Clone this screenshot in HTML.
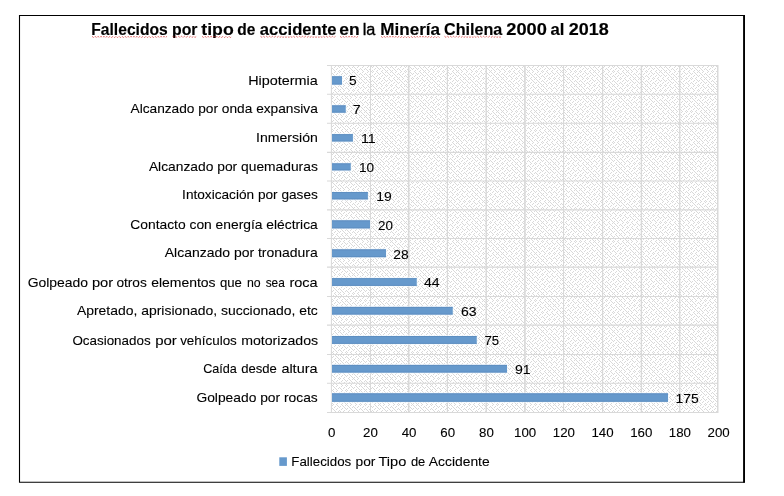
<!DOCTYPE html>
<html lang="es"><head><meta charset="utf-8">
<title>Fallecidos por tipo de accidente en la Minería Chilena 2000 al 2018</title>
<style>
html,body{margin:0;padding:0;background:#fff;}
body{width:784px;height:496px;overflow:hidden;}
svg{display:block;will-change:transform;}
text{font-family:"Liberation Sans", sans-serif;fill:#000;stroke:#000;stroke-width:0.1px;}
.cat{font-size:13.3px;}
.val{font-size:13.6px;}
.ax{font-size:13.3px;}
.leg{font-size:13.3px;}
.ttl{font-size:15.8px;font-weight:bold;stroke-width:0.15px;}
.ttl-l{font-size:15.8px;font-weight:normal;stroke:#000;stroke-width:0.35px;}
</style></head><body>
<svg width="784" height="496" viewBox="0 0 784 496">
<defs>
<pattern id="weave" width="137" height="137" patternUnits="userSpaceOnUse" patternTransform="translate(235 -70)">
<rect width="137" height="137" fill="#fff"/>
<path d="M0 0.5h1m4 0h1m4 0h1m2 0h1m1 0h1m2 0h1m1 0h1m2 0h1m4 0h1m4 0h1m4 0h1m4 0h1m4 0h1m2 0h1m1 0h1m2 0h1m4 0h1m4 0h1m4 0h1m4 0h1m4 0h1m2 0h1m1 0h1m2 0h1m4 0h1m4 0h1m4 0h1m4 0h1m4 0h1m2 0h1m1 0h1m2 0h1m4 0h1m4 0h1M3 1.5h1m2 0h1m1 0h1m2 0h1m4 0h1m4 0h1m4 0h1m4 0h1m4 0h1m2 0h1m1 0h1m2 0h1m1 0h1m2 0h1m4 0h1m4 0h1m4 0h1m4 0h1m4 0h1m2 0h1m1 0h1m2 0h1m4 0h1m4 0h1m4 0h1m4 0h1m4 0h1m2 0h1m1 0h1m2 0h1m4 0h1m4 0h1m4 0h1m4 0h1M2 2.5h1m4 0h1m4 0h1m4 0h1m4 0h1m2 0h1m1 0h1m2 0h1m4 0h1m4 0h1m4 0h1m4 0h1m4 0h1m2 0h1m1 0h1m2 0h1m4 0h1m4 0h1m4 0h1m4 0h1m4 0h1m2 0h1m1 0h1m2 0h1m1 0h1m2 0h1m4 0h1m4 0h1m4 0h1m4 0h1m2 0h1m1 0h1m2 0h1m1 0h1m2 0h1M0 3.5h1m4 0h1m4 0h1m2 0h1m1 0h1m2 0h1m1 0h1m2 0h1m4 0h1m4 0h1m4 0h1m4 0h1m4 0h1m2 0h1m1 0h1m2 0h1m4 0h1m4 0h1m4 0h1m4 0h1m4 0h1m2 0h1m1 0h1m2 0h1m4 0h1m4 0h1m4 0h1m4 0h1m4 0h1m2 0h1m1 0h1m2 0h1m4 0h1m4 0h1M1 4.5h1m2 0h1m4 0h1m4 0h1m4 0h1m4 0h1m4 0h1m2 0h1m1 0h1m2 0h1m4 0h1m4 0h1m4 0h1m4 0h1m4 0h1m2 0h1m1 0h1m2 0h1m1 0h1m2 0h1m4 0h1m4 0h1m4 0h1m4 0h1m4 0h1m2 0h1m1 0h1m2 0h1m4 0h1m4 0h1m4 0h1m4 0h1m4 0h1m2 0h1M0 5.5h1m4 0h1m4 0h1m2 0h1m1 0h1m2 0h1m1 0h1m2 0h1m4 0h1m4 0h1m4 0h1m4 0h1m4 0h1m2 0h1m1 0h1m2 0h1m4 0h1m4 0h1m4 0h1m4 0h1m4 0h1m2 0h1m1 0h1m2 0h1m4 0h1m4 0h1m4 0h1m4 0h1m4 0h1m2 0h1m1 0h1m2 0h1m4 0h1m4 0h1M3 6.5h1m2 0h1m1 0h1m2 0h1m4 0h1m4 0h1m4 0h1m4 0h1m4 0h1m2 0h1m1 0h1m2 0h1m1 0h1m2 0h1m4 0h1m4 0h1m4 0h1m4 0h1m4 0h1m2 0h1m1 0h1m2 0h1m4 0h1m4 0h1m4 0h1m4 0h1m4 0h1m2 0h1m1 0h1m2 0h1m4 0h1m4 0h1m4 0h1m4 0h1M2 7.5h1m4 0h1m4 0h1m4 0h1m4 0h1m2 0h1m1 0h1m2 0h1m4 0h1m4 0h1m4 0h1m4 0h1m4 0h1m2 0h1m1 0h1m2 0h1m4 0h1m4 0h1m4 0h1m4 0h1m4 0h1m2 0h1m1 0h1m2 0h1m1 0h1m2 0h1m4 0h1m4 0h1m4 0h1m4 0h1m2 0h1m1 0h1m2 0h1m1 0h1m2 0h1M0 8.5h1m4 0h1m4 0h1m2 0h1m1 0h1m2 0h1m1 0h1m2 0h1m4 0h1m4 0h1m4 0h1m4 0h1m4 0h1m2 0h1m1 0h1m2 0h1m4 0h1m4 0h1m4 0h1m4 0h1m4 0h1m2 0h1m1 0h1m2 0h1m4 0h1m4 0h1m4 0h1m4 0h1m4 0h1m2 0h1m1 0h1m2 0h1m4 0h1m4 0h1M1 9.5h1m2 0h1m4 0h1m4 0h1m4 0h1m4 0h1m4 0h1m2 0h1m1 0h1m2 0h1m4 0h1m4 0h1m4 0h1m4 0h1m4 0h1m2 0h1m1 0h1m2 0h1m1 0h1m2 0h1m4 0h1m4 0h1m4 0h1m4 0h1m4 0h1m2 0h1m1 0h1m2 0h1m4 0h1m4 0h1m4 0h1m4 0h1m4 0h1m2 0h1M2 10.5h1m4 0h1m4 0h1m4 0h1m4 0h1m2 0h1m1 0h1m2 0h1m4 0h1m4 0h1m4 0h1m4 0h1m4 0h1m2 0h1m1 0h1m2 0h1m4 0h1m4 0h1m4 0h1m4 0h1m4 0h1m2 0h1m1 0h1m2 0h1m1 0h1m2 0h1m4 0h1m4 0h1m4 0h1m4 0h1m2 0h1m1 0h1m2 0h1m1 0h1m2 0h1M3 11.5h1m2 0h1m1 0h1m2 0h1m4 0h1m4 0h1m4 0h1m4 0h1m4 0h1m2 0h1m1 0h1m2 0h1m1 0h1m2 0h1m4 0h1m4 0h1m4 0h1m4 0h1m4 0h1m2 0h1m1 0h1m2 0h1m4 0h1m4 0h1m4 0h1m4 0h1m4 0h1m2 0h1m1 0h1m2 0h1m4 0h1m4 0h1m4 0h1m4 0h1M2 12.5h1m4 0h1m4 0h1m4 0h1m4 0h1m2 0h1m1 0h1m2 0h1m4 0h1m4 0h1m4 0h1m4 0h1m4 0h1m2 0h1m1 0h1m2 0h1m4 0h1m4 0h1m4 0h1m4 0h1m4 0h1m2 0h1m1 0h1m2 0h1m1 0h1m2 0h1m4 0h1m4 0h1m4 0h1m4 0h1m2 0h1m1 0h1m2 0h1m1 0h1m2 0h1M0 13.5h1m4 0h1m4 0h1m2 0h1m1 0h1m2 0h1m1 0h1m2 0h1m4 0h1m4 0h1m4 0h1m4 0h1m4 0h1m2 0h1m1 0h1m2 0h1m4 0h1m4 0h1m4 0h1m4 0h1m4 0h1m2 0h1m1 0h1m2 0h1m4 0h1m4 0h1m4 0h1m4 0h1m4 0h1m2 0h1m1 0h1m2 0h1m4 0h1m4 0h1M1 14.5h1m2 0h1m4 0h1m4 0h1m4 0h1m4 0h1m4 0h1m2 0h1m1 0h1m2 0h1m4 0h1m4 0h1m4 0h1m4 0h1m4 0h1m2 0h1m1 0h1m2 0h1m1 0h1m2 0h1m4 0h1m4 0h1m4 0h1m4 0h1m4 0h1m2 0h1m1 0h1m2 0h1m4 0h1m4 0h1m4 0h1m4 0h1m4 0h1m2 0h1M2 15.5h1m4 0h1m4 0h1m4 0h1m4 0h1m2 0h1m1 0h1m2 0h1m4 0h1m4 0h1m4 0h1m4 0h1m4 0h1m2 0h1m1 0h1m2 0h1m4 0h1m4 0h1m4 0h1m4 0h1m4 0h1m2 0h1m1 0h1m2 0h1m1 0h1m2 0h1m4 0h1m4 0h1m4 0h1m4 0h1m2 0h1m1 0h1m2 0h1m1 0h1m2 0h1M3 16.5h1m2 0h1m1 0h1m2 0h1m4 0h1m4 0h1m4 0h1m4 0h1m4 0h1m2 0h1m1 0h1m2 0h1m1 0h1m2 0h1m4 0h1m4 0h1m4 0h1m4 0h1m4 0h1m2 0h1m1 0h1m2 0h1m4 0h1m4 0h1m4 0h1m4 0h1m4 0h1m2 0h1m1 0h1m2 0h1m4 0h1m4 0h1m4 0h1m4 0h1M1 17.5h1m2 0h1m4 0h1m4 0h1m4 0h1m4 0h1m4 0h1m2 0h1m1 0h1m2 0h1m4 0h1m4 0h1m4 0h1m4 0h1m4 0h1m2 0h1m1 0h1m2 0h1m1 0h1m2 0h1m4 0h1m4 0h1m4 0h1m4 0h1m4 0h1m2 0h1m1 0h1m2 0h1m4 0h1m4 0h1m4 0h1m4 0h1m4 0h1m2 0h1M0 18.5h1m4 0h1m4 0h1m2 0h1m1 0h1m2 0h1m1 0h1m2 0h1m4 0h1m4 0h1m4 0h1m4 0h1m4 0h1m2 0h1m1 0h1m2 0h1m4 0h1m4 0h1m4 0h1m4 0h1m4 0h1m2 0h1m1 0h1m2 0h1m4 0h1m4 0h1m4 0h1m4 0h1m4 0h1m2 0h1m1 0h1m2 0h1m4 0h1m4 0h1M1 19.5h1m2 0h1m4 0h1m4 0h1m4 0h1m4 0h1m4 0h1m2 0h1m1 0h1m2 0h1m4 0h1m4 0h1m4 0h1m4 0h1m4 0h1m2 0h1m1 0h1m2 0h1m1 0h1m2 0h1m4 0h1m4 0h1m4 0h1m4 0h1m4 0h1m2 0h1m1 0h1m2 0h1m4 0h1m4 0h1m4 0h1m4 0h1m4 0h1m2 0h1M2 20.5h1m4 0h1m4 0h1m4 0h1m4 0h1m2 0h1m1 0h1m2 0h1m4 0h1m4 0h1m4 0h1m4 0h1m4 0h1m2 0h1m1 0h1m2 0h1m4 0h1m4 0h1m4 0h1m4 0h1m4 0h1m2 0h1m1 0h1m2 0h1m1 0h1m2 0h1m4 0h1m4 0h1m4 0h1m4 0h1m2 0h1m1 0h1m2 0h1m1 0h1m2 0h1M3 21.5h1m2 0h1m1 0h1m2 0h1m4 0h1m4 0h1m4 0h1m4 0h1m4 0h1m2 0h1m1 0h1m2 0h1m1 0h1m2 0h1m4 0h1m4 0h1m4 0h1m4 0h1m4 0h1m2 0h1m1 0h1m2 0h1m4 0h1m4 0h1m4 0h1m4 0h1m4 0h1m2 0h1m1 0h1m2 0h1m4 0h1m4 0h1m4 0h1m4 0h1M1 22.5h1m2 0h1m4 0h1m4 0h1m4 0h1m4 0h1m4 0h1m2 0h1m1 0h1m2 0h1m4 0h1m4 0h1m4 0h1m4 0h1m4 0h1m2 0h1m1 0h1m2 0h1m1 0h1m2 0h1m4 0h1m4 0h1m4 0h1m4 0h1m4 0h1m2 0h1m1 0h1m2 0h1m4 0h1m4 0h1m4 0h1m4 0h1m4 0h1m2 0h1M0 23.5h1m4 0h1m4 0h1m2 0h1m1 0h1m2 0h1m1 0h1m2 0h1m4 0h1m4 0h1m4 0h1m4 0h1m4 0h1m2 0h1m1 0h1m2 0h1m4 0h1m4 0h1m4 0h1m4 0h1m4 0h1m2 0h1m1 0h1m2 0h1m4 0h1m4 0h1m4 0h1m4 0h1m4 0h1m2 0h1m1 0h1m2 0h1m4 0h1m4 0h1M1 24.5h1m2 0h1m4 0h1m4 0h1m4 0h1m4 0h1m4 0h1m2 0h1m1 0h1m2 0h1m4 0h1m4 0h1m4 0h1m4 0h1m4 0h1m2 0h1m1 0h1m2 0h1m1 0h1m2 0h1m4 0h1m4 0h1m4 0h1m4 0h1m4 0h1m2 0h1m1 0h1m2 0h1m4 0h1m4 0h1m4 0h1m4 0h1m4 0h1m2 0h1M2 25.5h1m4 0h1m4 0h1m4 0h1m4 0h1m2 0h1m1 0h1m2 0h1m4 0h1m4 0h1m4 0h1m4 0h1m4 0h1m2 0h1m1 0h1m2 0h1m4 0h1m4 0h1m4 0h1m4 0h1m4 0h1m2 0h1m1 0h1m2 0h1m1 0h1m2 0h1m4 0h1m4 0h1m4 0h1m4 0h1m2 0h1m1 0h1m2 0h1m1 0h1m2 0h1M3 26.5h1m2 0h1m1 0h1m2 0h1m4 0h1m4 0h1m4 0h1m4 0h1m4 0h1m2 0h1m1 0h1m2 0h1m1 0h1m2 0h1m4 0h1m4 0h1m4 0h1m4 0h1m4 0h1m2 0h1m1 0h1m2 0h1m4 0h1m4 0h1m4 0h1m4 0h1m4 0h1m2 0h1m1 0h1m2 0h1m4 0h1m4 0h1m4 0h1m4 0h1M1 27.5h1m2 0h1m4 0h1m4 0h1m4 0h1m4 0h1m4 0h1m2 0h1m1 0h1m2 0h1m4 0h1m4 0h1m4 0h1m4 0h1m4 0h1m2 0h1m1 0h1m2 0h1m1 0h1m2 0h1m4 0h1m4 0h1m4 0h1m4 0h1m4 0h1m2 0h1m1 0h1m2 0h1m4 0h1m4 0h1m4 0h1m4 0h1m4 0h1m2 0h1M0 28.5h1m4 0h1m4 0h1m2 0h1m1 0h1m2 0h1m1 0h1m2 0h1m4 0h1m4 0h1m4 0h1m4 0h1m4 0h1m2 0h1m1 0h1m2 0h1m4 0h1m4 0h1m4 0h1m4 0h1m4 0h1m2 0h1m1 0h1m2 0h1m4 0h1m4 0h1m4 0h1m4 0h1m4 0h1m2 0h1m1 0h1m2 0h1m4 0h1m4 0h1M3 29.5h1m2 0h1m1 0h1m2 0h1m4 0h1m4 0h1m4 0h1m4 0h1m4 0h1m2 0h1m1 0h1m2 0h1m1 0h1m2 0h1m4 0h1m4 0h1m4 0h1m4 0h1m4 0h1m2 0h1m1 0h1m2 0h1m4 0h1m4 0h1m4 0h1m4 0h1m4 0h1m2 0h1m1 0h1m2 0h1m4 0h1m4 0h1m4 0h1m4 0h1M2 30.5h1m4 0h1m4 0h1m4 0h1m4 0h1m2 0h1m1 0h1m2 0h1m4 0h1m4 0h1m4 0h1m4 0h1m4 0h1m2 0h1m1 0h1m2 0h1m4 0h1m4 0h1m4 0h1m4 0h1m4 0h1m2 0h1m1 0h1m2 0h1m1 0h1m2 0h1m4 0h1m4 0h1m4 0h1m4 0h1m2 0h1m1 0h1m2 0h1m1 0h1m2 0h1M3 31.5h1m2 0h1m1 0h1m2 0h1m4 0h1m4 0h1m4 0h1m4 0h1m4 0h1m2 0h1m1 0h1m2 0h1m1 0h1m2 0h1m4 0h1m4 0h1m4 0h1m4 0h1m4 0h1m2 0h1m1 0h1m2 0h1m4 0h1m4 0h1m4 0h1m4 0h1m4 0h1m2 0h1m1 0h1m2 0h1m4 0h1m4 0h1m4 0h1m4 0h1M1 32.5h1m2 0h1m4 0h1m4 0h1m4 0h1m4 0h1m4 0h1m2 0h1m1 0h1m2 0h1m4 0h1m4 0h1m4 0h1m4 0h1m4 0h1m2 0h1m1 0h1m2 0h1m1 0h1m2 0h1m4 0h1m4 0h1m4 0h1m4 0h1m4 0h1m2 0h1m1 0h1m2 0h1m4 0h1m4 0h1m4 0h1m4 0h1m4 0h1m2 0h1M0 33.5h1m4 0h1m4 0h1m2 0h1m1 0h1m2 0h1m1 0h1m2 0h1m4 0h1m4 0h1m4 0h1m4 0h1m4 0h1m2 0h1m1 0h1m2 0h1m4 0h1m4 0h1m4 0h1m4 0h1m4 0h1m2 0h1m1 0h1m2 0h1m4 0h1m4 0h1m4 0h1m4 0h1m4 0h1m2 0h1m1 0h1m2 0h1m4 0h1m4 0h1M3 34.5h1m2 0h1m1 0h1m2 0h1m4 0h1m4 0h1m4 0h1m4 0h1m4 0h1m2 0h1m1 0h1m2 0h1m1 0h1m2 0h1m4 0h1m4 0h1m4 0h1m4 0h1m4 0h1m2 0h1m1 0h1m2 0h1m4 0h1m4 0h1m4 0h1m4 0h1m4 0h1m2 0h1m1 0h1m2 0h1m4 0h1m4 0h1m4 0h1m4 0h1M2 35.5h1m4 0h1m4 0h1m4 0h1m4 0h1m2 0h1m1 0h1m2 0h1m4 0h1m4 0h1m4 0h1m4 0h1m4 0h1m2 0h1m1 0h1m2 0h1m4 0h1m4 0h1m4 0h1m4 0h1m4 0h1m2 0h1m1 0h1m2 0h1m1 0h1m2 0h1m4 0h1m4 0h1m4 0h1m4 0h1m2 0h1m1 0h1m2 0h1m1 0h1m2 0h1M0 36.5h1m4 0h1m4 0h1m2 0h1m1 0h1m2 0h1m1 0h1m2 0h1m4 0h1m4 0h1m4 0h1m4 0h1m4 0h1m2 0h1m1 0h1m2 0h1m4 0h1m4 0h1m4 0h1m4 0h1m4 0h1m2 0h1m1 0h1m2 0h1m4 0h1m4 0h1m4 0h1m4 0h1m4 0h1m2 0h1m1 0h1m2 0h1m4 0h1m4 0h1M1 37.5h1m2 0h1m4 0h1m4 0h1m4 0h1m4 0h1m4 0h1m2 0h1m1 0h1m2 0h1m4 0h1m4 0h1m4 0h1m4 0h1m4 0h1m2 0h1m1 0h1m2 0h1m1 0h1m2 0h1m4 0h1m4 0h1m4 0h1m4 0h1m4 0h1m2 0h1m1 0h1m2 0h1m4 0h1m4 0h1m4 0h1m4 0h1m4 0h1m2 0h1M0 38.5h1m4 0h1m4 0h1m2 0h1m1 0h1m2 0h1m1 0h1m2 0h1m4 0h1m4 0h1m4 0h1m4 0h1m4 0h1m2 0h1m1 0h1m2 0h1m4 0h1m4 0h1m4 0h1m4 0h1m4 0h1m2 0h1m1 0h1m2 0h1m4 0h1m4 0h1m4 0h1m4 0h1m4 0h1m2 0h1m1 0h1m2 0h1m4 0h1m4 0h1M3 39.5h1m2 0h1m1 0h1m2 0h1m4 0h1m4 0h1m4 0h1m4 0h1m4 0h1m2 0h1m1 0h1m2 0h1m1 0h1m2 0h1m4 0h1m4 0h1m4 0h1m4 0h1m4 0h1m2 0h1m1 0h1m2 0h1m4 0h1m4 0h1m4 0h1m4 0h1m4 0h1m2 0h1m1 0h1m2 0h1m4 0h1m4 0h1m4 0h1m4 0h1M2 40.5h1m4 0h1m4 0h1m4 0h1m4 0h1m2 0h1m1 0h1m2 0h1m4 0h1m4 0h1m4 0h1m4 0h1m4 0h1m2 0h1m1 0h1m2 0h1m4 0h1m4 0h1m4 0h1m4 0h1m4 0h1m2 0h1m1 0h1m2 0h1m1 0h1m2 0h1m4 0h1m4 0h1m4 0h1m4 0h1m2 0h1m1 0h1m2 0h1m1 0h1m2 0h1M0 41.5h1m4 0h1m4 0h1m2 0h1m1 0h1m2 0h1m1 0h1m2 0h1m4 0h1m4 0h1m4 0h1m4 0h1m4 0h1m2 0h1m1 0h1m2 0h1m4 0h1m4 0h1m4 0h1m4 0h1m4 0h1m2 0h1m1 0h1m2 0h1m4 0h1m4 0h1m4 0h1m4 0h1m4 0h1m2 0h1m1 0h1m2 0h1m4 0h1m4 0h1M1 42.5h1m2 0h1m4 0h1m4 0h1m4 0h1m4 0h1m4 0h1m2 0h1m1 0h1m2 0h1m4 0h1m4 0h1m4 0h1m4 0h1m4 0h1m2 0h1m1 0h1m2 0h1m1 0h1m2 0h1m4 0h1m4 0h1m4 0h1m4 0h1m4 0h1m2 0h1m1 0h1m2 0h1m4 0h1m4 0h1m4 0h1m4 0h1m4 0h1m2 0h1M2 43.5h1m4 0h1m4 0h1m4 0h1m4 0h1m2 0h1m1 0h1m2 0h1m4 0h1m4 0h1m4 0h1m4 0h1m4 0h1m2 0h1m1 0h1m2 0h1m4 0h1m4 0h1m4 0h1m4 0h1m4 0h1m2 0h1m1 0h1m2 0h1m1 0h1m2 0h1m4 0h1m4 0h1m4 0h1m4 0h1m2 0h1m1 0h1m2 0h1m1 0h1m2 0h1M3 44.5h1m2 0h1m1 0h1m2 0h1m4 0h1m4 0h1m4 0h1m4 0h1m4 0h1m2 0h1m1 0h1m2 0h1m1 0h1m2 0h1m4 0h1m4 0h1m4 0h1m4 0h1m4 0h1m2 0h1m1 0h1m2 0h1m4 0h1m4 0h1m4 0h1m4 0h1m4 0h1m2 0h1m1 0h1m2 0h1m4 0h1m4 0h1m4 0h1m4 0h1M2 45.5h1m4 0h1m4 0h1m4 0h1m4 0h1m2 0h1m1 0h1m2 0h1m4 0h1m4 0h1m4 0h1m4 0h1m4 0h1m2 0h1m1 0h1m2 0h1m4 0h1m4 0h1m4 0h1m4 0h1m4 0h1m2 0h1m1 0h1m2 0h1m1 0h1m2 0h1m4 0h1m4 0h1m4 0h1m4 0h1m2 0h1m1 0h1m2 0h1m1 0h1m2 0h1M0 46.5h1m4 0h1m4 0h1m2 0h1m1 0h1m2 0h1m1 0h1m2 0h1m4 0h1m4 0h1m4 0h1m4 0h1m4 0h1m2 0h1m1 0h1m2 0h1m4 0h1m4 0h1m4 0h1m4 0h1m4 0h1m2 0h1m1 0h1m2 0h1m4 0h1m4 0h1m4 0h1m4 0h1m4 0h1m2 0h1m1 0h1m2 0h1m4 0h1m4 0h1M1 47.5h1m2 0h1m4 0h1m4 0h1m4 0h1m4 0h1m4 0h1m2 0h1m1 0h1m2 0h1m4 0h1m4 0h1m4 0h1m4 0h1m4 0h1m2 0h1m1 0h1m2 0h1m1 0h1m2 0h1m4 0h1m4 0h1m4 0h1m4 0h1m4 0h1m2 0h1m1 0h1m2 0h1m4 0h1m4 0h1m4 0h1m4 0h1m4 0h1m2 0h1M2 48.5h1m4 0h1m4 0h1m4 0h1m4 0h1m2 0h1m1 0h1m2 0h1m4 0h1m4 0h1m4 0h1m4 0h1m4 0h1m2 0h1m1 0h1m2 0h1m4 0h1m4 0h1m4 0h1m4 0h1m4 0h1m2 0h1m1 0h1m2 0h1m1 0h1m2 0h1m4 0h1m4 0h1m4 0h1m4 0h1m2 0h1m1 0h1m2 0h1m1 0h1m2 0h1M3 49.5h1m2 0h1m1 0h1m2 0h1m4 0h1m4 0h1m4 0h1m4 0h1m4 0h1m2 0h1m1 0h1m2 0h1m1 0h1m2 0h1m4 0h1m4 0h1m4 0h1m4 0h1m4 0h1m2 0h1m1 0h1m2 0h1m4 0h1m4 0h1m4 0h1m4 0h1m4 0h1m2 0h1m1 0h1m2 0h1m4 0h1m4 0h1m4 0h1m4 0h1M2 50.5h1m4 0h1m4 0h1m4 0h1m4 0h1m2 0h1m1 0h1m2 0h1m4 0h1m4 0h1m4 0h1m4 0h1m4 0h1m2 0h1m1 0h1m2 0h1m4 0h1m4 0h1m4 0h1m4 0h1m4 0h1m2 0h1m1 0h1m2 0h1m1 0h1m2 0h1m4 0h1m4 0h1m4 0h1m4 0h1m2 0h1m1 0h1m2 0h1m1 0h1m2 0h1M0 51.5h1m4 0h1m4 0h1m2 0h1m1 0h1m2 0h1m1 0h1m2 0h1m4 0h1m4 0h1m4 0h1m4 0h1m4 0h1m2 0h1m1 0h1m2 0h1m4 0h1m4 0h1m4 0h1m4 0h1m4 0h1m2 0h1m1 0h1m2 0h1m4 0h1m4 0h1m4 0h1m4 0h1m4 0h1m2 0h1m1 0h1m2 0h1m4 0h1m4 0h1M1 52.5h1m2 0h1m4 0h1m4 0h1m4 0h1m4 0h1m4 0h1m2 0h1m1 0h1m2 0h1m4 0h1m4 0h1m4 0h1m4 0h1m4 0h1m2 0h1m1 0h1m2 0h1m1 0h1m2 0h1m4 0h1m4 0h1m4 0h1m4 0h1m4 0h1m2 0h1m1 0h1m2 0h1m4 0h1m4 0h1m4 0h1m4 0h1m4 0h1m2 0h1M2 53.5h1m4 0h1m4 0h1m4 0h1m4 0h1m2 0h1m1 0h1m2 0h1m4 0h1m4 0h1m4 0h1m4 0h1m4 0h1m2 0h1m1 0h1m2 0h1m4 0h1m4 0h1m4 0h1m4 0h1m4 0h1m2 0h1m1 0h1m2 0h1m1 0h1m2 0h1m4 0h1m4 0h1m4 0h1m4 0h1m2 0h1m1 0h1m2 0h1m1 0h1m2 0h1M3 54.5h1m2 0h1m1 0h1m2 0h1m4 0h1m4 0h1m4 0h1m4 0h1m4 0h1m2 0h1m1 0h1m2 0h1m1 0h1m2 0h1m4 0h1m4 0h1m4 0h1m4 0h1m4 0h1m2 0h1m1 0h1m2 0h1m4 0h1m4 0h1m4 0h1m4 0h1m4 0h1m2 0h1m1 0h1m2 0h1m4 0h1m4 0h1m4 0h1m4 0h1M1 55.5h1m2 0h1m4 0h1m4 0h1m4 0h1m4 0h1m4 0h1m2 0h1m1 0h1m2 0h1m4 0h1m4 0h1m4 0h1m4 0h1m4 0h1m2 0h1m1 0h1m2 0h1m1 0h1m2 0h1m4 0h1m4 0h1m4 0h1m4 0h1m4 0h1m2 0h1m1 0h1m2 0h1m4 0h1m4 0h1m4 0h1m4 0h1m4 0h1m2 0h1M0 56.5h1m4 0h1m4 0h1m2 0h1m1 0h1m2 0h1m1 0h1m2 0h1m4 0h1m4 0h1m4 0h1m4 0h1m4 0h1m2 0h1m1 0h1m2 0h1m4 0h1m4 0h1m4 0h1m4 0h1m4 0h1m2 0h1m1 0h1m2 0h1m4 0h1m4 0h1m4 0h1m4 0h1m4 0h1m2 0h1m1 0h1m2 0h1m4 0h1m4 0h1M1 57.5h1m2 0h1m4 0h1m4 0h1m4 0h1m4 0h1m4 0h1m2 0h1m1 0h1m2 0h1m4 0h1m4 0h1m4 0h1m4 0h1m4 0h1m2 0h1m1 0h1m2 0h1m1 0h1m2 0h1m4 0h1m4 0h1m4 0h1m4 0h1m4 0h1m2 0h1m1 0h1m2 0h1m4 0h1m4 0h1m4 0h1m4 0h1m4 0h1m2 0h1M2 58.5h1m4 0h1m4 0h1m4 0h1m4 0h1m2 0h1m1 0h1m2 0h1m4 0h1m4 0h1m4 0h1m4 0h1m4 0h1m2 0h1m1 0h1m2 0h1m4 0h1m4 0h1m4 0h1m4 0h1m4 0h1m2 0h1m1 0h1m2 0h1m1 0h1m2 0h1m4 0h1m4 0h1m4 0h1m4 0h1m2 0h1m1 0h1m2 0h1m1 0h1m2 0h1M3 59.5h1m2 0h1m1 0h1m2 0h1m4 0h1m4 0h1m4 0h1m4 0h1m4 0h1m2 0h1m1 0h1m2 0h1m1 0h1m2 0h1m4 0h1m4 0h1m4 0h1m4 0h1m4 0h1m2 0h1m1 0h1m2 0h1m4 0h1m4 0h1m4 0h1m4 0h1m4 0h1m2 0h1m1 0h1m2 0h1m4 0h1m4 0h1m4 0h1m4 0h1M1 60.5h1m2 0h1m4 0h1m4 0h1m4 0h1m4 0h1m4 0h1m2 0h1m1 0h1m2 0h1m4 0h1m4 0h1m4 0h1m4 0h1m4 0h1m2 0h1m1 0h1m2 0h1m1 0h1m2 0h1m4 0h1m4 0h1m4 0h1m4 0h1m4 0h1m2 0h1m1 0h1m2 0h1m4 0h1m4 0h1m4 0h1m4 0h1m4 0h1m2 0h1M0 61.5h1m4 0h1m4 0h1m2 0h1m1 0h1m2 0h1m1 0h1m2 0h1m4 0h1m4 0h1m4 0h1m4 0h1m4 0h1m2 0h1m1 0h1m2 0h1m4 0h1m4 0h1m4 0h1m4 0h1m4 0h1m2 0h1m1 0h1m2 0h1m4 0h1m4 0h1m4 0h1m4 0h1m4 0h1m2 0h1m1 0h1m2 0h1m4 0h1m4 0h1M3 62.5h1m2 0h1m1 0h1m2 0h1m4 0h1m4 0h1m4 0h1m4 0h1m4 0h1m2 0h1m1 0h1m2 0h1m1 0h1m2 0h1m4 0h1m4 0h1m4 0h1m4 0h1m4 0h1m2 0h1m1 0h1m2 0h1m4 0h1m4 0h1m4 0h1m4 0h1m4 0h1m2 0h1m1 0h1m2 0h1m4 0h1m4 0h1m4 0h1m4 0h1M2 63.5h1m4 0h1m4 0h1m4 0h1m4 0h1m2 0h1m1 0h1m2 0h1m4 0h1m4 0h1m4 0h1m4 0h1m4 0h1m2 0h1m1 0h1m2 0h1m4 0h1m4 0h1m4 0h1m4 0h1m4 0h1m2 0h1m1 0h1m2 0h1m1 0h1m2 0h1m4 0h1m4 0h1m4 0h1m4 0h1m2 0h1m1 0h1m2 0h1m1 0h1m2 0h1M3 64.5h1m2 0h1m1 0h1m2 0h1m4 0h1m4 0h1m4 0h1m4 0h1m4 0h1m2 0h1m1 0h1m2 0h1m1 0h1m2 0h1m4 0h1m4 0h1m4 0h1m4 0h1m4 0h1m2 0h1m1 0h1m2 0h1m4 0h1m4 0h1m4 0h1m4 0h1m4 0h1m2 0h1m1 0h1m2 0h1m4 0h1m4 0h1m4 0h1m4 0h1M1 65.5h1m2 0h1m4 0h1m4 0h1m4 0h1m4 0h1m4 0h1m2 0h1m1 0h1m2 0h1m4 0h1m4 0h1m4 0h1m4 0h1m4 0h1m2 0h1m1 0h1m2 0h1m1 0h1m2 0h1m4 0h1m4 0h1m4 0h1m4 0h1m4 0h1m2 0h1m1 0h1m2 0h1m4 0h1m4 0h1m4 0h1m4 0h1m4 0h1m2 0h1M0 66.5h1m4 0h1m4 0h1m2 0h1m1 0h1m2 0h1m1 0h1m2 0h1m4 0h1m4 0h1m4 0h1m4 0h1m4 0h1m2 0h1m1 0h1m2 0h1m4 0h1m4 0h1m4 0h1m4 0h1m4 0h1m2 0h1m1 0h1m2 0h1m4 0h1m4 0h1m4 0h1m4 0h1m4 0h1m2 0h1m1 0h1m2 0h1m4 0h1m4 0h1M3 67.5h1m2 0h1m1 0h1m2 0h1m4 0h1m4 0h1m4 0h1m4 0h1m4 0h1m2 0h1m1 0h1m2 0h1m1 0h1m2 0h1m4 0h1m4 0h1m4 0h1m4 0h1m4 0h1m2 0h1m1 0h1m2 0h1m4 0h1m4 0h1m4 0h1m4 0h1m4 0h1m2 0h1m1 0h1m2 0h1m4 0h1m4 0h1m4 0h1m4 0h1M2 68.5h1m4 0h1m4 0h1m4 0h1m4 0h1m2 0h1m1 0h1m2 0h1m4 0h1m4 0h1m4 0h1m4 0h1m4 0h1m2 0h1m1 0h1m2 0h1m4 0h1m4 0h1m4 0h1m4 0h1m4 0h1m2 0h1m1 0h1m2 0h1m1 0h1m2 0h1m4 0h1m4 0h1m4 0h1m4 0h1m2 0h1m1 0h1m2 0h1m1 0h1m2 0h1M0 69.5h1m4 0h1m4 0h1m2 0h1m1 0h1m2 0h1m1 0h1m2 0h1m4 0h1m4 0h1m4 0h1m4 0h1m4 0h1m2 0h1m1 0h1m2 0h1m4 0h1m4 0h1m4 0h1m4 0h1m4 0h1m2 0h1m1 0h1m2 0h1m4 0h1m4 0h1m4 0h1m4 0h1m4 0h1m2 0h1m1 0h1m2 0h1m4 0h1m4 0h1M1 70.5h1m2 0h1m4 0h1m4 0h1m4 0h1m4 0h1m4 0h1m2 0h1m1 0h1m2 0h1m4 0h1m4 0h1m4 0h1m4 0h1m4 0h1m2 0h1m1 0h1m2 0h1m1 0h1m2 0h1m4 0h1m4 0h1m4 0h1m4 0h1m4 0h1m2 0h1m1 0h1m2 0h1m4 0h1m4 0h1m4 0h1m4 0h1m4 0h1m2 0h1M0 71.5h1m4 0h1m4 0h1m2 0h1m1 0h1m2 0h1m1 0h1m2 0h1m4 0h1m4 0h1m4 0h1m4 0h1m4 0h1m2 0h1m1 0h1m2 0h1m4 0h1m4 0h1m4 0h1m4 0h1m4 0h1m2 0h1m1 0h1m2 0h1m4 0h1m4 0h1m4 0h1m4 0h1m4 0h1m2 0h1m1 0h1m2 0h1m4 0h1m4 0h1M3 72.5h1m2 0h1m1 0h1m2 0h1m4 0h1m4 0h1m4 0h1m4 0h1m4 0h1m2 0h1m1 0h1m2 0h1m1 0h1m2 0h1m4 0h1m4 0h1m4 0h1m4 0h1m4 0h1m2 0h1m1 0h1m2 0h1m4 0h1m4 0h1m4 0h1m4 0h1m4 0h1m2 0h1m1 0h1m2 0h1m4 0h1m4 0h1m4 0h1m4 0h1M2 73.5h1m4 0h1m4 0h1m4 0h1m4 0h1m2 0h1m1 0h1m2 0h1m4 0h1m4 0h1m4 0h1m4 0h1m4 0h1m2 0h1m1 0h1m2 0h1m4 0h1m4 0h1m4 0h1m4 0h1m4 0h1m2 0h1m1 0h1m2 0h1m1 0h1m2 0h1m4 0h1m4 0h1m4 0h1m4 0h1m2 0h1m1 0h1m2 0h1m1 0h1m2 0h1M0 74.5h1m4 0h1m4 0h1m2 0h1m1 0h1m2 0h1m1 0h1m2 0h1m4 0h1m4 0h1m4 0h1m4 0h1m4 0h1m2 0h1m1 0h1m2 0h1m4 0h1m4 0h1m4 0h1m4 0h1m4 0h1m2 0h1m1 0h1m2 0h1m4 0h1m4 0h1m4 0h1m4 0h1m4 0h1m2 0h1m1 0h1m2 0h1m4 0h1m4 0h1M1 75.5h1m2 0h1m4 0h1m4 0h1m4 0h1m4 0h1m4 0h1m2 0h1m1 0h1m2 0h1m4 0h1m4 0h1m4 0h1m4 0h1m4 0h1m2 0h1m1 0h1m2 0h1m1 0h1m2 0h1m4 0h1m4 0h1m4 0h1m4 0h1m4 0h1m2 0h1m1 0h1m2 0h1m4 0h1m4 0h1m4 0h1m4 0h1m4 0h1m2 0h1M0 76.5h1m4 0h1m4 0h1m2 0h1m1 0h1m2 0h1m1 0h1m2 0h1m4 0h1m4 0h1m4 0h1m4 0h1m4 0h1m2 0h1m1 0h1m2 0h1m4 0h1m4 0h1m4 0h1m4 0h1m4 0h1m2 0h1m1 0h1m2 0h1m4 0h1m4 0h1m4 0h1m4 0h1m4 0h1m2 0h1m1 0h1m2 0h1m4 0h1m4 0h1M3 77.5h1m2 0h1m1 0h1m2 0h1m4 0h1m4 0h1m4 0h1m4 0h1m4 0h1m2 0h1m1 0h1m2 0h1m1 0h1m2 0h1m4 0h1m4 0h1m4 0h1m4 0h1m4 0h1m2 0h1m1 0h1m2 0h1m4 0h1m4 0h1m4 0h1m4 0h1m4 0h1m2 0h1m1 0h1m2 0h1m4 0h1m4 0h1m4 0h1m4 0h1M2 78.5h1m4 0h1m4 0h1m4 0h1m4 0h1m2 0h1m1 0h1m2 0h1m4 0h1m4 0h1m4 0h1m4 0h1m4 0h1m2 0h1m1 0h1m2 0h1m4 0h1m4 0h1m4 0h1m4 0h1m4 0h1m2 0h1m1 0h1m2 0h1m1 0h1m2 0h1m4 0h1m4 0h1m4 0h1m4 0h1m2 0h1m1 0h1m2 0h1m1 0h1m2 0h1M0 79.5h1m4 0h1m4 0h1m2 0h1m1 0h1m2 0h1m1 0h1m2 0h1m4 0h1m4 0h1m4 0h1m4 0h1m4 0h1m2 0h1m1 0h1m2 0h1m4 0h1m4 0h1m4 0h1m4 0h1m4 0h1m2 0h1m1 0h1m2 0h1m4 0h1m4 0h1m4 0h1m4 0h1m4 0h1m2 0h1m1 0h1m2 0h1m4 0h1m4 0h1M1 80.5h1m2 0h1m4 0h1m4 0h1m4 0h1m4 0h1m4 0h1m2 0h1m1 0h1m2 0h1m4 0h1m4 0h1m4 0h1m4 0h1m4 0h1m2 0h1m1 0h1m2 0h1m1 0h1m2 0h1m4 0h1m4 0h1m4 0h1m4 0h1m4 0h1m2 0h1m1 0h1m2 0h1m4 0h1m4 0h1m4 0h1m4 0h1m4 0h1m2 0h1M2 81.5h1m4 0h1m4 0h1m4 0h1m4 0h1m2 0h1m1 0h1m2 0h1m4 0h1m4 0h1m4 0h1m4 0h1m4 0h1m2 0h1m1 0h1m2 0h1m4 0h1m4 0h1m4 0h1m4 0h1m4 0h1m2 0h1m1 0h1m2 0h1m1 0h1m2 0h1m4 0h1m4 0h1m4 0h1m4 0h1m2 0h1m1 0h1m2 0h1m1 0h1m2 0h1M3 82.5h1m2 0h1m1 0h1m2 0h1m4 0h1m4 0h1m4 0h1m4 0h1m4 0h1m2 0h1m1 0h1m2 0h1m1 0h1m2 0h1m4 0h1m4 0h1m4 0h1m4 0h1m4 0h1m2 0h1m1 0h1m2 0h1m4 0h1m4 0h1m4 0h1m4 0h1m4 0h1m2 0h1m1 0h1m2 0h1m4 0h1m4 0h1m4 0h1m4 0h1M2 83.5h1m4 0h1m4 0h1m4 0h1m4 0h1m2 0h1m1 0h1m2 0h1m4 0h1m4 0h1m4 0h1m4 0h1m4 0h1m2 0h1m1 0h1m2 0h1m4 0h1m4 0h1m4 0h1m4 0h1m4 0h1m2 0h1m1 0h1m2 0h1m1 0h1m2 0h1m4 0h1m4 0h1m4 0h1m4 0h1m2 0h1m1 0h1m2 0h1m1 0h1m2 0h1M0 84.5h1m4 0h1m4 0h1m2 0h1m1 0h1m2 0h1m1 0h1m2 0h1m4 0h1m4 0h1m4 0h1m4 0h1m4 0h1m2 0h1m1 0h1m2 0h1m4 0h1m4 0h1m4 0h1m4 0h1m4 0h1m2 0h1m1 0h1m2 0h1m4 0h1m4 0h1m4 0h1m4 0h1m4 0h1m2 0h1m1 0h1m2 0h1m4 0h1m4 0h1M1 85.5h1m2 0h1m4 0h1m4 0h1m4 0h1m4 0h1m4 0h1m2 0h1m1 0h1m2 0h1m4 0h1m4 0h1m4 0h1m4 0h1m4 0h1m2 0h1m1 0h1m2 0h1m1 0h1m2 0h1m4 0h1m4 0h1m4 0h1m4 0h1m4 0h1m2 0h1m1 0h1m2 0h1m4 0h1m4 0h1m4 0h1m4 0h1m4 0h1m2 0h1M2 86.5h1m4 0h1m4 0h1m4 0h1m4 0h1m2 0h1m1 0h1m2 0h1m4 0h1m4 0h1m4 0h1m4 0h1m4 0h1m2 0h1m1 0h1m2 0h1m4 0h1m4 0h1m4 0h1m4 0h1m4 0h1m2 0h1m1 0h1m2 0h1m1 0h1m2 0h1m4 0h1m4 0h1m4 0h1m4 0h1m2 0h1m1 0h1m2 0h1m1 0h1m2 0h1M3 87.5h1m2 0h1m1 0h1m2 0h1m4 0h1m4 0h1m4 0h1m4 0h1m4 0h1m2 0h1m1 0h1m2 0h1m1 0h1m2 0h1m4 0h1m4 0h1m4 0h1m4 0h1m4 0h1m2 0h1m1 0h1m2 0h1m4 0h1m4 0h1m4 0h1m4 0h1m4 0h1m2 0h1m1 0h1m2 0h1m4 0h1m4 0h1m4 0h1m4 0h1M1 88.5h1m2 0h1m4 0h1m4 0h1m4 0h1m4 0h1m4 0h1m2 0h1m1 0h1m2 0h1m4 0h1m4 0h1m4 0h1m4 0h1m4 0h1m2 0h1m1 0h1m2 0h1m1 0h1m2 0h1m4 0h1m4 0h1m4 0h1m4 0h1m4 0h1m2 0h1m1 0h1m2 0h1m4 0h1m4 0h1m4 0h1m4 0h1m4 0h1m2 0h1M0 89.5h1m4 0h1m4 0h1m2 0h1m1 0h1m2 0h1m1 0h1m2 0h1m4 0h1m4 0h1m4 0h1m4 0h1m4 0h1m2 0h1m1 0h1m2 0h1m4 0h1m4 0h1m4 0h1m4 0h1m4 0h1m2 0h1m1 0h1m2 0h1m4 0h1m4 0h1m4 0h1m4 0h1m4 0h1m2 0h1m1 0h1m2 0h1m4 0h1m4 0h1M1 90.5h1m2 0h1m4 0h1m4 0h1m4 0h1m4 0h1m4 0h1m2 0h1m1 0h1m2 0h1m4 0h1m4 0h1m4 0h1m4 0h1m4 0h1m2 0h1m1 0h1m2 0h1m1 0h1m2 0h1m4 0h1m4 0h1m4 0h1m4 0h1m4 0h1m2 0h1m1 0h1m2 0h1m4 0h1m4 0h1m4 0h1m4 0h1m4 0h1m2 0h1M2 91.5h1m4 0h1m4 0h1m4 0h1m4 0h1m2 0h1m1 0h1m2 0h1m4 0h1m4 0h1m4 0h1m4 0h1m4 0h1m2 0h1m1 0h1m2 0h1m4 0h1m4 0h1m4 0h1m4 0h1m4 0h1m2 0h1m1 0h1m2 0h1m1 0h1m2 0h1m4 0h1m4 0h1m4 0h1m4 0h1m2 0h1m1 0h1m2 0h1m1 0h1m2 0h1M3 92.5h1m2 0h1m1 0h1m2 0h1m4 0h1m4 0h1m4 0h1m4 0h1m4 0h1m2 0h1m1 0h1m2 0h1m1 0h1m2 0h1m4 0h1m4 0h1m4 0h1m4 0h1m4 0h1m2 0h1m1 0h1m2 0h1m4 0h1m4 0h1m4 0h1m4 0h1m4 0h1m2 0h1m1 0h1m2 0h1m4 0h1m4 0h1m4 0h1m4 0h1M1 93.5h1m2 0h1m4 0h1m4 0h1m4 0h1m4 0h1m4 0h1m2 0h1m1 0h1m2 0h1m4 0h1m4 0h1m4 0h1m4 0h1m4 0h1m2 0h1m1 0h1m2 0h1m1 0h1m2 0h1m4 0h1m4 0h1m4 0h1m4 0h1m4 0h1m2 0h1m1 0h1m2 0h1m4 0h1m4 0h1m4 0h1m4 0h1m4 0h1m2 0h1M0 94.5h1m4 0h1m4 0h1m2 0h1m1 0h1m2 0h1m1 0h1m2 0h1m4 0h1m4 0h1m4 0h1m4 0h1m4 0h1m2 0h1m1 0h1m2 0h1m4 0h1m4 0h1m4 0h1m4 0h1m4 0h1m2 0h1m1 0h1m2 0h1m4 0h1m4 0h1m4 0h1m4 0h1m4 0h1m2 0h1m1 0h1m2 0h1m4 0h1m4 0h1M3 95.5h1m2 0h1m1 0h1m2 0h1m4 0h1m4 0h1m4 0h1m4 0h1m4 0h1m2 0h1m1 0h1m2 0h1m1 0h1m2 0h1m4 0h1m4 0h1m4 0h1m4 0h1m4 0h1m2 0h1m1 0h1m2 0h1m4 0h1m4 0h1m4 0h1m4 0h1m4 0h1m2 0h1m1 0h1m2 0h1m4 0h1m4 0h1m4 0h1m4 0h1M2 96.5h1m4 0h1m4 0h1m4 0h1m4 0h1m2 0h1m1 0h1m2 0h1m4 0h1m4 0h1m4 0h1m4 0h1m4 0h1m2 0h1m1 0h1m2 0h1m4 0h1m4 0h1m4 0h1m4 0h1m4 0h1m2 0h1m1 0h1m2 0h1m1 0h1m2 0h1m4 0h1m4 0h1m4 0h1m4 0h1m2 0h1m1 0h1m2 0h1m1 0h1m2 0h1M3 97.5h1m2 0h1m1 0h1m2 0h1m4 0h1m4 0h1m4 0h1m4 0h1m4 0h1m2 0h1m1 0h1m2 0h1m1 0h1m2 0h1m4 0h1m4 0h1m4 0h1m4 0h1m4 0h1m2 0h1m1 0h1m2 0h1m4 0h1m4 0h1m4 0h1m4 0h1m4 0h1m2 0h1m1 0h1m2 0h1m4 0h1m4 0h1m4 0h1m4 0h1M1 98.5h1m2 0h1m4 0h1m4 0h1m4 0h1m4 0h1m4 0h1m2 0h1m1 0h1m2 0h1m4 0h1m4 0h1m4 0h1m4 0h1m4 0h1m2 0h1m1 0h1m2 0h1m1 0h1m2 0h1m4 0h1m4 0h1m4 0h1m4 0h1m4 0h1m2 0h1m1 0h1m2 0h1m4 0h1m4 0h1m4 0h1m4 0h1m4 0h1m2 0h1M0 99.5h1m4 0h1m4 0h1m2 0h1m1 0h1m2 0h1m1 0h1m2 0h1m4 0h1m4 0h1m4 0h1m4 0h1m4 0h1m2 0h1m1 0h1m2 0h1m4 0h1m4 0h1m4 0h1m4 0h1m4 0h1m2 0h1m1 0h1m2 0h1m4 0h1m4 0h1m4 0h1m4 0h1m4 0h1m2 0h1m1 0h1m2 0h1m4 0h1m4 0h1M3 100.5h1m2 0h1m1 0h1m2 0h1m4 0h1m4 0h1m4 0h1m4 0h1m4 0h1m2 0h1m1 0h1m2 0h1m1 0h1m2 0h1m4 0h1m4 0h1m4 0h1m4 0h1m4 0h1m2 0h1m1 0h1m2 0h1m4 0h1m4 0h1m4 0h1m4 0h1m4 0h1m2 0h1m1 0h1m2 0h1m4 0h1m4 0h1m4 0h1m4 0h1M2 101.5h1m4 0h1m4 0h1m4 0h1m4 0h1m2 0h1m1 0h1m2 0h1m4 0h1m4 0h1m4 0h1m4 0h1m4 0h1m2 0h1m1 0h1m2 0h1m4 0h1m4 0h1m4 0h1m4 0h1m4 0h1m2 0h1m1 0h1m2 0h1m1 0h1m2 0h1m4 0h1m4 0h1m4 0h1m4 0h1m2 0h1m1 0h1m2 0h1m1 0h1m2 0h1M3 102.5h1m2 0h1m1 0h1m2 0h1m4 0h1m4 0h1m4 0h1m4 0h1m4 0h1m2 0h1m1 0h1m2 0h1m1 0h1m2 0h1m4 0h1m4 0h1m4 0h1m4 0h1m4 0h1m2 0h1m1 0h1m2 0h1m4 0h1m4 0h1m4 0h1m4 0h1m4 0h1m2 0h1m1 0h1m2 0h1m4 0h1m4 0h1m4 0h1m4 0h1M1 103.5h1m2 0h1m4 0h1m4 0h1m4 0h1m4 0h1m4 0h1m2 0h1m1 0h1m2 0h1m4 0h1m4 0h1m4 0h1m4 0h1m4 0h1m2 0h1m1 0h1m2 0h1m1 0h1m2 0h1m4 0h1m4 0h1m4 0h1m4 0h1m4 0h1m2 0h1m1 0h1m2 0h1m4 0h1m4 0h1m4 0h1m4 0h1m4 0h1m2 0h1M0 104.5h1m4 0h1m4 0h1m2 0h1m1 0h1m2 0h1m1 0h1m2 0h1m4 0h1m4 0h1m4 0h1m4 0h1m4 0h1m2 0h1m1 0h1m2 0h1m4 0h1m4 0h1m4 0h1m4 0h1m4 0h1m2 0h1m1 0h1m2 0h1m4 0h1m4 0h1m4 0h1m4 0h1m4 0h1m2 0h1m1 0h1m2 0h1m4 0h1m4 0h1M3 105.5h1m2 0h1m1 0h1m2 0h1m4 0h1m4 0h1m4 0h1m4 0h1m4 0h1m2 0h1m1 0h1m2 0h1m1 0h1m2 0h1m4 0h1m4 0h1m4 0h1m4 0h1m4 0h1m2 0h1m1 0h1m2 0h1m4 0h1m4 0h1m4 0h1m4 0h1m4 0h1m2 0h1m1 0h1m2 0h1m4 0h1m4 0h1m4 0h1m4 0h1M2 106.5h1m4 0h1m4 0h1m4 0h1m4 0h1m2 0h1m1 0h1m2 0h1m4 0h1m4 0h1m4 0h1m4 0h1m4 0h1m2 0h1m1 0h1m2 0h1m4 0h1m4 0h1m4 0h1m4 0h1m4 0h1m2 0h1m1 0h1m2 0h1m1 0h1m2 0h1m4 0h1m4 0h1m4 0h1m4 0h1m2 0h1m1 0h1m2 0h1m1 0h1m2 0h1M0 107.5h1m4 0h1m4 0h1m2 0h1m1 0h1m2 0h1m1 0h1m2 0h1m4 0h1m4 0h1m4 0h1m4 0h1m4 0h1m2 0h1m1 0h1m2 0h1m4 0h1m4 0h1m4 0h1m4 0h1m4 0h1m2 0h1m1 0h1m2 0h1m4 0h1m4 0h1m4 0h1m4 0h1m4 0h1m2 0h1m1 0h1m2 0h1m4 0h1m4 0h1M1 108.5h1m2 0h1m4 0h1m4 0h1m4 0h1m4 0h1m4 0h1m2 0h1m1 0h1m2 0h1m4 0h1m4 0h1m4 0h1m4 0h1m4 0h1m2 0h1m1 0h1m2 0h1m1 0h1m2 0h1m4 0h1m4 0h1m4 0h1m4 0h1m4 0h1m2 0h1m1 0h1m2 0h1m4 0h1m4 0h1m4 0h1m4 0h1m4 0h1m2 0h1M0 109.5h1m4 0h1m4 0h1m2 0h1m1 0h1m2 0h1m1 0h1m2 0h1m4 0h1m4 0h1m4 0h1m4 0h1m4 0h1m2 0h1m1 0h1m2 0h1m4 0h1m4 0h1m4 0h1m4 0h1m4 0h1m2 0h1m1 0h1m2 0h1m4 0h1m4 0h1m4 0h1m4 0h1m4 0h1m2 0h1m1 0h1m2 0h1m4 0h1m4 0h1M3 110.5h1m2 0h1m1 0h1m2 0h1m4 0h1m4 0h1m4 0h1m4 0h1m4 0h1m2 0h1m1 0h1m2 0h1m1 0h1m2 0h1m4 0h1m4 0h1m4 0h1m4 0h1m4 0h1m2 0h1m1 0h1m2 0h1m4 0h1m4 0h1m4 0h1m4 0h1m4 0h1m2 0h1m1 0h1m2 0h1m4 0h1m4 0h1m4 0h1m4 0h1M2 111.5h1m4 0h1m4 0h1m4 0h1m4 0h1m2 0h1m1 0h1m2 0h1m4 0h1m4 0h1m4 0h1m4 0h1m4 0h1m2 0h1m1 0h1m2 0h1m4 0h1m4 0h1m4 0h1m4 0h1m4 0h1m2 0h1m1 0h1m2 0h1m1 0h1m2 0h1m4 0h1m4 0h1m4 0h1m4 0h1m2 0h1m1 0h1m2 0h1m1 0h1m2 0h1M0 112.5h1m4 0h1m4 0h1m2 0h1m1 0h1m2 0h1m1 0h1m2 0h1m4 0h1m4 0h1m4 0h1m4 0h1m4 0h1m2 0h1m1 0h1m2 0h1m4 0h1m4 0h1m4 0h1m4 0h1m4 0h1m2 0h1m1 0h1m2 0h1m4 0h1m4 0h1m4 0h1m4 0h1m4 0h1m2 0h1m1 0h1m2 0h1m4 0h1m4 0h1M1 113.5h1m2 0h1m4 0h1m4 0h1m4 0h1m4 0h1m4 0h1m2 0h1m1 0h1m2 0h1m4 0h1m4 0h1m4 0h1m4 0h1m4 0h1m2 0h1m1 0h1m2 0h1m1 0h1m2 0h1m4 0h1m4 0h1m4 0h1m4 0h1m4 0h1m2 0h1m1 0h1m2 0h1m4 0h1m4 0h1m4 0h1m4 0h1m4 0h1m2 0h1M2 114.5h1m4 0h1m4 0h1m4 0h1m4 0h1m2 0h1m1 0h1m2 0h1m4 0h1m4 0h1m4 0h1m4 0h1m4 0h1m2 0h1m1 0h1m2 0h1m4 0h1m4 0h1m4 0h1m4 0h1m4 0h1m2 0h1m1 0h1m2 0h1m1 0h1m2 0h1m4 0h1m4 0h1m4 0h1m4 0h1m2 0h1m1 0h1m2 0h1m1 0h1m2 0h1M3 115.5h1m2 0h1m1 0h1m2 0h1m4 0h1m4 0h1m4 0h1m4 0h1m4 0h1m2 0h1m1 0h1m2 0h1m1 0h1m2 0h1m4 0h1m4 0h1m4 0h1m4 0h1m4 0h1m2 0h1m1 0h1m2 0h1m4 0h1m4 0h1m4 0h1m4 0h1m4 0h1m2 0h1m1 0h1m2 0h1m4 0h1m4 0h1m4 0h1m4 0h1M2 116.5h1m4 0h1m4 0h1m4 0h1m4 0h1m2 0h1m1 0h1m2 0h1m4 0h1m4 0h1m4 0h1m4 0h1m4 0h1m2 0h1m1 0h1m2 0h1m4 0h1m4 0h1m4 0h1m4 0h1m4 0h1m2 0h1m1 0h1m2 0h1m1 0h1m2 0h1m4 0h1m4 0h1m4 0h1m4 0h1m2 0h1m1 0h1m2 0h1m1 0h1m2 0h1M0 117.5h1m4 0h1m4 0h1m2 0h1m1 0h1m2 0h1m1 0h1m2 0h1m4 0h1m4 0h1m4 0h1m4 0h1m4 0h1m2 0h1m1 0h1m2 0h1m4 0h1m4 0h1m4 0h1m4 0h1m4 0h1m2 0h1m1 0h1m2 0h1m4 0h1m4 0h1m4 0h1m4 0h1m4 0h1m2 0h1m1 0h1m2 0h1m4 0h1m4 0h1M1 118.5h1m2 0h1m4 0h1m4 0h1m4 0h1m4 0h1m4 0h1m2 0h1m1 0h1m2 0h1m4 0h1m4 0h1m4 0h1m4 0h1m4 0h1m2 0h1m1 0h1m2 0h1m1 0h1m2 0h1m4 0h1m4 0h1m4 0h1m4 0h1m4 0h1m2 0h1m1 0h1m2 0h1m4 0h1m4 0h1m4 0h1m4 0h1m4 0h1m2 0h1M2 119.5h1m4 0h1m4 0h1m4 0h1m4 0h1m2 0h1m1 0h1m2 0h1m4 0h1m4 0h1m4 0h1m4 0h1m4 0h1m2 0h1m1 0h1m2 0h1m4 0h1m4 0h1m4 0h1m4 0h1m4 0h1m2 0h1m1 0h1m2 0h1m1 0h1m2 0h1m4 0h1m4 0h1m4 0h1m4 0h1m2 0h1m1 0h1m2 0h1m1 0h1m2 0h1M3 120.5h1m2 0h1m1 0h1m2 0h1m4 0h1m4 0h1m4 0h1m4 0h1m4 0h1m2 0h1m1 0h1m2 0h1m1 0h1m2 0h1m4 0h1m4 0h1m4 0h1m4 0h1m4 0h1m2 0h1m1 0h1m2 0h1m4 0h1m4 0h1m4 0h1m4 0h1m4 0h1m2 0h1m1 0h1m2 0h1m4 0h1m4 0h1m4 0h1m4 0h1M1 121.5h1m2 0h1m4 0h1m4 0h1m4 0h1m4 0h1m4 0h1m2 0h1m1 0h1m2 0h1m4 0h1m4 0h1m4 0h1m4 0h1m4 0h1m2 0h1m1 0h1m2 0h1m1 0h1m2 0h1m4 0h1m4 0h1m4 0h1m4 0h1m4 0h1m2 0h1m1 0h1m2 0h1m4 0h1m4 0h1m4 0h1m4 0h1m4 0h1m2 0h1M0 122.5h1m4 0h1m4 0h1m2 0h1m1 0h1m2 0h1m1 0h1m2 0h1m4 0h1m4 0h1m4 0h1m4 0h1m4 0h1m2 0h1m1 0h1m2 0h1m4 0h1m4 0h1m4 0h1m4 0h1m4 0h1m2 0h1m1 0h1m2 0h1m4 0h1m4 0h1m4 0h1m4 0h1m4 0h1m2 0h1m1 0h1m2 0h1m4 0h1m4 0h1M1 123.5h1m2 0h1m4 0h1m4 0h1m4 0h1m4 0h1m4 0h1m2 0h1m1 0h1m2 0h1m4 0h1m4 0h1m4 0h1m4 0h1m4 0h1m2 0h1m1 0h1m2 0h1m1 0h1m2 0h1m4 0h1m4 0h1m4 0h1m4 0h1m4 0h1m2 0h1m1 0h1m2 0h1m4 0h1m4 0h1m4 0h1m4 0h1m4 0h1m2 0h1M2 124.5h1m4 0h1m4 0h1m4 0h1m4 0h1m2 0h1m1 0h1m2 0h1m4 0h1m4 0h1m4 0h1m4 0h1m4 0h1m2 0h1m1 0h1m2 0h1m4 0h1m4 0h1m4 0h1m4 0h1m4 0h1m2 0h1m1 0h1m2 0h1m1 0h1m2 0h1m4 0h1m4 0h1m4 0h1m4 0h1m2 0h1m1 0h1m2 0h1m1 0h1m2 0h1M3 125.5h1m2 0h1m1 0h1m2 0h1m4 0h1m4 0h1m4 0h1m4 0h1m4 0h1m2 0h1m1 0h1m2 0h1m1 0h1m2 0h1m4 0h1m4 0h1m4 0h1m4 0h1m4 0h1m2 0h1m1 0h1m2 0h1m4 0h1m4 0h1m4 0h1m4 0h1m4 0h1m2 0h1m1 0h1m2 0h1m4 0h1m4 0h1m4 0h1m4 0h1M1 126.5h1m2 0h1m4 0h1m4 0h1m4 0h1m4 0h1m4 0h1m2 0h1m1 0h1m2 0h1m4 0h1m4 0h1m4 0h1m4 0h1m4 0h1m2 0h1m1 0h1m2 0h1m1 0h1m2 0h1m4 0h1m4 0h1m4 0h1m4 0h1m4 0h1m2 0h1m1 0h1m2 0h1m4 0h1m4 0h1m4 0h1m4 0h1m4 0h1m2 0h1M0 127.5h1m4 0h1m4 0h1m2 0h1m1 0h1m2 0h1m1 0h1m2 0h1m4 0h1m4 0h1m4 0h1m4 0h1m4 0h1m2 0h1m1 0h1m2 0h1m4 0h1m4 0h1m4 0h1m4 0h1m4 0h1m2 0h1m1 0h1m2 0h1m4 0h1m4 0h1m4 0h1m4 0h1m4 0h1m2 0h1m1 0h1m2 0h1m4 0h1m4 0h1M1 128.5h1m2 0h1m4 0h1m4 0h1m4 0h1m4 0h1m4 0h1m2 0h1m1 0h1m2 0h1m4 0h1m4 0h1m4 0h1m4 0h1m4 0h1m2 0h1m1 0h1m2 0h1m1 0h1m2 0h1m4 0h1m4 0h1m4 0h1m4 0h1m4 0h1m2 0h1m1 0h1m2 0h1m4 0h1m4 0h1m4 0h1m4 0h1m4 0h1m2 0h1M2 129.5h1m4 0h1m4 0h1m4 0h1m4 0h1m2 0h1m1 0h1m2 0h1m4 0h1m4 0h1m4 0h1m4 0h1m4 0h1m2 0h1m1 0h1m2 0h1m4 0h1m4 0h1m4 0h1m4 0h1m4 0h1m2 0h1m1 0h1m2 0h1m1 0h1m2 0h1m4 0h1m4 0h1m4 0h1m4 0h1m2 0h1m1 0h1m2 0h1m1 0h1m2 0h1M3 130.5h1m2 0h1m1 0h1m2 0h1m4 0h1m4 0h1m4 0h1m4 0h1m4 0h1m2 0h1m1 0h1m2 0h1m1 0h1m2 0h1m4 0h1m4 0h1m4 0h1m4 0h1m4 0h1m2 0h1m1 0h1m2 0h1m4 0h1m4 0h1m4 0h1m4 0h1m4 0h1m2 0h1m1 0h1m2 0h1m4 0h1m4 0h1m4 0h1m4 0h1M1 131.5h1m2 0h1m4 0h1m4 0h1m4 0h1m4 0h1m4 0h1m2 0h1m1 0h1m2 0h1m4 0h1m4 0h1m4 0h1m4 0h1m4 0h1m2 0h1m1 0h1m2 0h1m1 0h1m2 0h1m4 0h1m4 0h1m4 0h1m4 0h1m4 0h1m2 0h1m1 0h1m2 0h1m4 0h1m4 0h1m4 0h1m4 0h1m4 0h1m2 0h1M0 132.5h1m4 0h1m4 0h1m2 0h1m1 0h1m2 0h1m1 0h1m2 0h1m4 0h1m4 0h1m4 0h1m4 0h1m4 0h1m2 0h1m1 0h1m2 0h1m4 0h1m4 0h1m4 0h1m4 0h1m4 0h1m2 0h1m1 0h1m2 0h1m4 0h1m4 0h1m4 0h1m4 0h1m4 0h1m2 0h1m1 0h1m2 0h1m4 0h1m4 0h1M3 133.5h1m2 0h1m1 0h1m2 0h1m4 0h1m4 0h1m4 0h1m4 0h1m4 0h1m2 0h1m1 0h1m2 0h1m1 0h1m2 0h1m4 0h1m4 0h1m4 0h1m4 0h1m4 0h1m2 0h1m1 0h1m2 0h1m4 0h1m4 0h1m4 0h1m4 0h1m4 0h1m2 0h1m1 0h1m2 0h1m4 0h1m4 0h1m4 0h1m4 0h1M2 134.5h1m4 0h1m4 0h1m4 0h1m4 0h1m2 0h1m1 0h1m2 0h1m4 0h1m4 0h1m4 0h1m4 0h1m4 0h1m2 0h1m1 0h1m2 0h1m4 0h1m4 0h1m4 0h1m4 0h1m4 0h1m2 0h1m1 0h1m2 0h1m1 0h1m2 0h1m4 0h1m4 0h1m4 0h1m4 0h1m2 0h1m1 0h1m2 0h1m1 0h1m2 0h1M3 135.5h1m2 0h1m1 0h1m2 0h1m4 0h1m4 0h1m4 0h1m4 0h1m4 0h1m2 0h1m1 0h1m2 0h1m1 0h1m2 0h1m4 0h1m4 0h1m4 0h1m4 0h1m4 0h1m2 0h1m1 0h1m2 0h1m4 0h1m4 0h1m4 0h1m4 0h1m4 0h1m2 0h1m1 0h1m2 0h1m4 0h1m4 0h1m4 0h1m4 0h1M1 136.5h1m2 0h1m4 0h1m4 0h1m4 0h1m4 0h1m4 0h1m2 0h1m1 0h1m2 0h1m4 0h1m4 0h1m4 0h1m4 0h1m4 0h1m2 0h1m1 0h1m2 0h1m1 0h1m2 0h1m4 0h1m4 0h1m4 0h1m4 0h1m4 0h1m2 0h1m1 0h1m2 0h1m4 0h1m4 0h1m4 0h1m4 0h1m4 0h1m2 0h1" fill="none" stroke="#d9d9d9" stroke-width="1"/>
</pattern>
</defs>
<rect x="0" y="0" width="784" height="496" fill="#fff"/>
<path d="M19.5 15.5 H744 V482.2 H19.5 Z" fill="none" stroke="#000" stroke-width="1.1"/>
<line x1="744.1" y1="15" x2="744.1" y2="482.7" stroke="#000" stroke-width="1.8"/>
<rect x="331" y="65" width="387" height="348" fill="url(#weave)"/>
<path d="M330.90 65h1.0V413h-1.0zM370.00 65h1.0V413h-1.0zM407.90 65h1.6V413h-1.6zM446.80 65h1.2V413h-1.2zM485.50 65h1.4V413h-1.4zM524.10 65h1.6V413h-1.6zM563.00 65h1.1V413h-1.1zM602.00 65h1.2V413h-1.2zM640.70 65h1.4V413h-1.4zM679.10 65h1.3V413h-1.3zM717.00 65h1.5V413h-1.5zM327 64.95H718.5v1.1H327zM327 93.65H718.5v1.1H327zM327 122.65H718.5v1.1H327zM327 151.80H718.5v1.1H327zM327 180.45H718.5v1.1H327zM327 209.35H718.5v1.1H327zM327 237.95H718.5v1.1H327zM327 266.55H718.5v1.1H327zM327 295.95H718.5v1.1H327zM327 324.55H718.5v1.1H327zM327 353.95H718.5v1.1H327zM327 382.65H718.5v1.1H327zM327 411.95H718.5v1.1H327z" fill="#d9d9d9"/>
<rect x="331.5" y="75.15" width="11.60" height="10.55" fill="#f4faff" opacity="0.6"/>
<rect x="332" y="76.25" width="10.00" height="8.35" fill="#6699cc"/>
<path d="M332 76.75H342.00M332 84.10H342.00" stroke="#5585b8" stroke-width="1" opacity="0.55" fill="none"/>
<rect x="331.5" y="104.20" width="15.35" height="9.60" fill="#f4faff" opacity="0.6"/>
<rect x="332" y="105.30" width="13.75" height="7.40" fill="#6699cc"/>
<path d="M332 105.80H345.75M332 112.20H345.75" stroke="#5585b8" stroke-width="1" opacity="0.55" fill="none"/>
<rect x="331.5" y="133.00" width="22.50" height="9.60" fill="#f4faff" opacity="0.6"/>
<rect x="332" y="134.10" width="20.90" height="7.40" fill="#6699cc"/>
<path d="M332 134.60H352.90M332 141.00H352.90" stroke="#5585b8" stroke-width="1" opacity="0.55" fill="none"/>
<rect x="331.5" y="162.20" width="20.35" height="9.30" fill="#f4faff" opacity="0.6"/>
<rect x="332" y="163.30" width="18.75" height="7.10" fill="#6699cc"/>
<path d="M332 163.80H350.75M332 169.90H350.75" stroke="#5585b8" stroke-width="1" opacity="0.55" fill="none"/>
<rect x="331.5" y="190.90" width="37.50" height="9.60" fill="#f4faff" opacity="0.6"/>
<rect x="332" y="192.00" width="35.90" height="7.40" fill="#6699cc"/>
<path d="M332 192.50H367.90M332 198.90H367.90" stroke="#5585b8" stroke-width="1" opacity="0.55" fill="none"/>
<rect x="331.5" y="219.20" width="39.60" height="10.30" fill="#f4faff" opacity="0.6"/>
<rect x="332" y="220.30" width="38.00" height="8.10" fill="#6699cc"/>
<path d="M332 220.80H370.00M332 227.90H370.00" stroke="#5585b8" stroke-width="1" opacity="0.55" fill="none"/>
<rect x="331.5" y="248.20" width="55.60" height="10.10" fill="#f4faff" opacity="0.6"/>
<rect x="332" y="249.30" width="54.00" height="7.90" fill="#6699cc"/>
<path d="M332 249.80H386.00M332 256.70H386.00" stroke="#5585b8" stroke-width="1" opacity="0.55" fill="none"/>
<rect x="331.5" y="277.00" width="86.35" height="10.00" fill="#f4faff" opacity="0.6"/>
<rect x="332" y="278.10" width="84.75" height="7.80" fill="#6699cc"/>
<path d="M332 278.60H416.75M332 285.40H416.75" stroke="#5585b8" stroke-width="1" opacity="0.55" fill="none"/>
<rect x="331.5" y="305.80" width="122.35" height="9.90" fill="#f4faff" opacity="0.6"/>
<rect x="332" y="306.90" width="120.75" height="7.70" fill="#6699cc"/>
<path d="M332 307.40H452.75M332 314.10H452.75" stroke="#5585b8" stroke-width="1" opacity="0.55" fill="none"/>
<rect x="331.5" y="334.90" width="146.35" height="10.10" fill="#f4faff" opacity="0.6"/>
<rect x="332" y="336.00" width="144.75" height="7.90" fill="#6699cc"/>
<path d="M332 336.50H476.75M332 343.40H476.75" stroke="#5585b8" stroke-width="1" opacity="0.55" fill="none"/>
<rect x="331.5" y="363.80" width="176.60" height="9.90" fill="#f4faff" opacity="0.6"/>
<rect x="332" y="364.90" width="175.00" height="7.70" fill="#6699cc"/>
<path d="M332 365.40H507.00M332 372.10H507.00" stroke="#5585b8" stroke-width="1" opacity="0.55" fill="none"/>
<rect x="331.5" y="392.20" width="337.60" height="10.70" fill="#f4faff" opacity="0.6"/>
<rect x="332" y="393.30" width="336.00" height="8.50" fill="#6699cc"/>
<path d="M332 393.80H668.00M332 401.30H668.00" stroke="#5585b8" stroke-width="1" opacity="0.55" fill="none"/>
<text class="cat" x="248.15" y="85.00" textLength="69.65" lengthAdjust="spacingAndGlyphs">Hipotermia</text>
<text class="val" x="349.10" y="85.10" textLength="7.60" lengthAdjust="spacingAndGlyphs">5</text>
<text class="cat" x="130.50" y="113.30" textLength="187.30" lengthAdjust="spacingAndGlyphs">Alcanzado por onda expansiva</text>
<text class="val" x="352.80" y="114.00" textLength="7.90" lengthAdjust="spacingAndGlyphs">7</text>
<text class="cat" x="256.00" y="141.75" textLength="61.80" lengthAdjust="spacingAndGlyphs">Inmersión</text>
<text class="val" x="360.90" y="142.90" textLength="14.80" lengthAdjust="spacingAndGlyphs">11</text>
<text class="cat" x="148.90" y="170.60" textLength="168.90" lengthAdjust="spacingAndGlyphs">Alcanzado por quemaduras</text>
<text class="val" x="359.05" y="171.80" textLength="15.15" lengthAdjust="spacingAndGlyphs">10</text>
<text class="cat" x="182.10" y="199.05" textLength="135.70" lengthAdjust="spacingAndGlyphs">Intoxicación por gases</text>
<text class="val" x="376.30" y="200.70" textLength="15.40" lengthAdjust="spacingAndGlyphs">19</text>
<text class="cat" x="130.30" y="228.65" textLength="187.50" lengthAdjust="spacingAndGlyphs">Contacto con energía eléctrica</text>
<text class="val" x="378.05" y="229.60" textLength="14.90" lengthAdjust="spacingAndGlyphs">20</text>
<text class="cat" x="164.80" y="257.25" textLength="153.00" lengthAdjust="spacingAndGlyphs">Alcanzado por tronadura</text>
<text class="val" x="393.30" y="258.50" textLength="15.40" lengthAdjust="spacingAndGlyphs">28</text>
<text class="cat" x="27.65" y="286.60" textLength="60.45" lengthAdjust="spacingAndGlyphs">Golpeado</text>
<text class="cat" x="91.90" y="286.60" textLength="21.20" lengthAdjust="spacingAndGlyphs">por</text>
<text class="cat" x="116.40" y="286.60" textLength="30.45" lengthAdjust="spacingAndGlyphs">otros</text>
<text class="cat" x="151.15" y="286.60" textLength="64.45" lengthAdjust="spacingAndGlyphs">elementos</text>
<text class="cat" x="219.90" y="286.60" textLength="21.95" lengthAdjust="spacingAndGlyphs">que</text>
<text class="cat" x="246.90" y="286.60" textLength="13.70" lengthAdjust="spacingAndGlyphs">no</text>
<text class="cat" x="265.65" y="286.60" textLength="19.20" lengthAdjust="spacingAndGlyphs">sea</text>
<text class="cat" x="289.40" y="286.60" textLength="28.30" lengthAdjust="spacingAndGlyphs">roca</text>
<text class="val" x="424.05" y="287.40" textLength="15.65" lengthAdjust="spacingAndGlyphs">44</text>
<text class="cat" x="76.90" y="314.80" textLength="240.90" lengthAdjust="spacingAndGlyphs">Apretado, aprisionado, succionado, etc</text>
<text class="val" x="461.05" y="316.30" textLength="15.65" lengthAdjust="spacingAndGlyphs">63</text>
<text class="cat" x="72.40" y="344.50" textLength="78.20" lengthAdjust="spacingAndGlyphs">Ocasionados</text>
<text class="cat" x="155.15" y="344.50" textLength="21.70" lengthAdjust="spacingAndGlyphs">por</text>
<text class="cat" x="180.15" y="344.50" textLength="56.70" lengthAdjust="spacingAndGlyphs">vehículos</text>
<text class="cat" x="241.15" y="344.50" textLength="76.95" lengthAdjust="spacingAndGlyphs">motorizados</text>
<text class="val" x="484.55" y="345.20" textLength="14.65" lengthAdjust="spacingAndGlyphs">75</text>
<text class="cat" x="203.15" y="372.65" textLength="33.70" lengthAdjust="spacingAndGlyphs">Caída</text>
<text class="cat" x="241.15" y="372.65" textLength="35.70" lengthAdjust="spacingAndGlyphs">desde</text>
<text class="cat" x="281.40" y="372.65" textLength="36.10" lengthAdjust="spacingAndGlyphs">altura</text>
<text class="val" x="515.05" y="374.10" textLength="15.65" lengthAdjust="spacingAndGlyphs">91</text>
<text class="cat" x="196.40" y="401.60" textLength="121.40" lengthAdjust="spacingAndGlyphs">Golpeado por rocas</text>
<text class="val" x="675.55" y="403.00" textLength="23.25" lengthAdjust="spacingAndGlyphs">175</text>
<text class="ax" x="331.70" y="437.0" text-anchor="middle">0</text>
<text class="ax" x="370.39" y="437.0" text-anchor="middle">20</text>
<text class="ax" x="409.08" y="437.0" text-anchor="middle">40</text>
<text class="ax" x="447.77" y="437.0" text-anchor="middle">60</text>
<text class="ax" x="486.46" y="437.0" text-anchor="middle">80</text>
<text class="ax" x="525.15" y="437.0" text-anchor="middle">100</text>
<text class="ax" x="563.84" y="437.0" text-anchor="middle">120</text>
<text class="ax" x="602.53" y="437.0" text-anchor="middle">140</text>
<text class="ax" x="641.22" y="437.0" text-anchor="middle">160</text>
<text class="ax" x="679.91" y="437.0" text-anchor="middle">180</text>
<text class="ax" x="718.60" y="437.0" text-anchor="middle">200</text>
<text class="ttl" x="91.30" y="35.0" textLength="76.40" lengthAdjust="spacingAndGlyphs">Fallecidos</text>
<text class="ttl" x="172.00" y="35.0" textLength="25.50" lengthAdjust="spacingAndGlyphs">por</text>
<text class="ttl" x="201.30" y="35.0" textLength="32.40" lengthAdjust="spacingAndGlyphs">tipo</text>
<text class="ttl" x="237.30" y="35.0" textLength="18.10" lengthAdjust="spacingAndGlyphs">de</text>
<text class="ttl" x="259.80" y="35.0" textLength="76.70" lengthAdjust="spacingAndGlyphs">accidente</text>
<text class="ttl" x="339.30" y="35.0" textLength="20.40" lengthAdjust="spacingAndGlyphs">en</text>
<text class="ttl-l" x="362.70" y="35.0" textLength="12.70" lengthAdjust="spacingAndGlyphs">la</text>
<text class="ttl" x="380.30" y="35.0" textLength="59.80" lengthAdjust="spacingAndGlyphs">Minería</text>
<text class="ttl" x="444.05" y="35.0" textLength="58.25" lengthAdjust="spacingAndGlyphs">Chilena</text>
<text class="ttl" x="506.30" y="35.0" textLength="40.65" lengthAdjust="spacingAndGlyphs">2000</text>
<text class="ttl" x="550.55" y="35.0" textLength="13.90" lengthAdjust="spacingAndGlyphs">al</text>
<text class="ttl" x="568.70" y="35.0" textLength="40.00" lengthAdjust="spacingAndGlyphs">2018</text>
<path d="M92.0 36.3L93.5 37.5L95.0 36.3L96.5 37.5L98.0 36.3L99.5 37.5L101.0 36.3L102.5 37.5L104.0 36.3L105.5 37.5L107.0 36.3L108.5 37.5L110.0 36.3L111.5 37.5L113.0 36.3L114.5 37.5L116.0 36.3L117.5 37.5L119.0 36.3L120.5 37.5L122.0 36.3L123.5 37.5L125.0 36.3L126.5 37.5L128.0 36.3L129.5 37.5L131.0 36.3L132.5 37.5L134.0 36.3L135.5 37.5L137.0 36.3L138.5 37.5L140.0 36.3L141.5 37.5L143.0 36.3L144.5 37.5L146.0 36.3L147.5 37.5L149.0 36.3L150.5 37.5L152.0 36.3L153.5 37.5L155.0 36.3L156.5 37.5L158.0 36.3L159.5 37.5L161.0 36.3L162.5 37.5L164.0 36.3L165.5 37.5L167.0 36.3M172.5 36.3L174.0 37.5L175.5 36.3L177.0 37.5L178.5 36.3L180.0 37.5L181.5 36.3L183.0 37.5L184.5 36.3L186.0 37.5L187.5 36.3L189.0 37.5L190.5 36.3L192.0 37.5L193.5 36.3L195.0 37.5L196.5 36.3M202.0 36.3L203.5 37.5L205.0 36.3L206.5 37.5L208.0 36.3L209.5 37.5L211.0 36.3L212.5 37.5L214.0 36.3L215.5 37.5L217.0 36.3L218.5 37.5L220.0 36.3L221.5 37.5L223.0 36.3L224.5 37.5L226.0 36.3L227.5 37.5L229.0 36.3L230.5 37.5L232.0 36.3M260.5 36.3L262.0 37.5L263.5 36.3L265.0 37.5L266.5 36.3L268.0 37.5L269.5 36.3L271.0 37.5L272.5 36.3L274.0 37.5L275.5 36.3L277.0 37.5L278.5 36.3L280.0 37.5L281.5 36.3L283.0 37.5L284.5 36.3L286.0 37.5L287.5 36.3L289.0 37.5L290.5 36.3L292.0 37.5L293.5 36.3L295.0 37.5L296.5 36.3L298.0 37.5L299.5 36.3L301.0 37.5L302.5 36.3L304.0 37.5L305.5 36.3L307.0 37.5L308.5 36.3L310.0 37.5L311.5 36.3L313.0 37.5L314.5 36.3L316.0 37.5L317.5 36.3L319.0 37.5L320.5 36.3L322.0 37.5L323.5 36.3L325.0 37.5L326.5 36.3L328.0 37.5L329.5 36.3L331.0 37.5L332.5 36.3L334.0 37.5L335.5 36.3M340.0 36.3L341.5 37.5L343.0 36.3L344.5 37.5L346.0 36.3L347.5 37.5L349.0 36.3L350.5 37.5L352.0 36.3L353.5 37.5L355.0 36.3L356.5 37.5L358.0 36.3M381.0 36.3L382.5 37.5L384.0 36.3L385.5 37.5L387.0 36.3L388.5 37.5L390.0 36.3L391.5 37.5L393.0 36.3L394.5 37.5L396.0 36.3L397.5 37.5L399.0 36.3L400.5 37.5L402.0 36.3L403.5 37.5L405.0 36.3L406.5 37.5L408.0 36.3L409.5 37.5L411.0 36.3L412.5 37.5L414.0 36.3L415.5 37.5L417.0 36.3L418.5 37.5L420.0 36.3L421.5 37.5L423.0 36.3L424.5 37.5L426.0 36.3L427.5 37.5L429.0 36.3L430.5 37.5L432.0 36.3L433.5 37.5L435.0 36.3L436.5 37.5L438.0 36.3L439.5 37.5M444.5 36.3L446.0 37.5L447.5 36.3L449.0 37.5L450.5 36.3L452.0 37.5L453.5 36.3L455.0 37.5L456.5 36.3L458.0 37.5L459.5 36.3L461.0 37.5L462.5 36.3L464.0 37.5L465.5 36.3L467.0 37.5L468.5 36.3L470.0 37.5L471.5 36.3L473.0 37.5L474.5 36.3L476.0 37.5L477.5 36.3L479.0 37.5L480.5 36.3L482.0 37.5L483.5 36.3L485.0 37.5L486.5 36.3L488.0 37.5L489.5 36.3L491.0 37.5L492.5 36.3L494.0 37.5L495.5 36.3L497.0 37.5L498.5 36.3L500.0 37.5L501.5 36.3" fill="none" stroke="#d92b2b" stroke-width="0.85" stroke-dasharray="2.3 1.2" opacity="0.8"/>
<rect x="279.3" y="457.3" width="7.6" height="8.6" fill="#6699cc"/>
<text class="leg" x="291.30" y="465.6" textLength="59.90" lengthAdjust="spacingAndGlyphs">Fallecidos</text>
<text class="leg" x="355.50" y="465.6" textLength="19.90" lengthAdjust="spacingAndGlyphs">por</text>
<text class="leg" x="378.50" y="465.6" textLength="27.80" lengthAdjust="spacingAndGlyphs">Tipo</text>
<text class="leg" x="410.90" y="465.6" textLength="14.40" lengthAdjust="spacingAndGlyphs">de</text>
<text class="leg" x="428.80" y="465.6" textLength="60.90" lengthAdjust="spacingAndGlyphs">Accidente</text>
</svg>
</body></html>
